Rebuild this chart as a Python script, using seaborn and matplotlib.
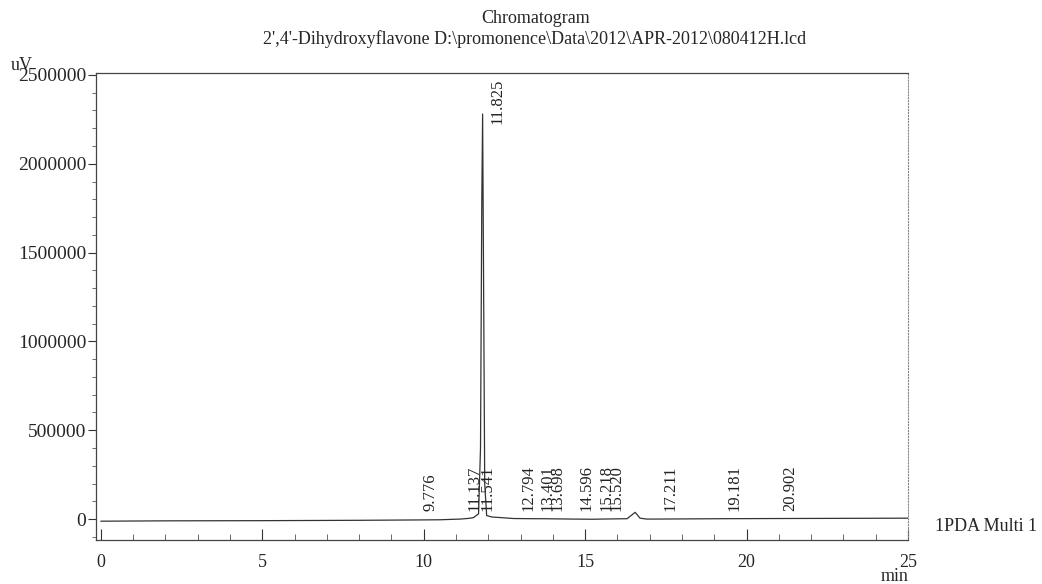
import numpy as np
import pandas as pd
import matplotlib
matplotlib.use('Agg')
import matplotlib.pyplot as plt
import seaborn as sns
from matplotlib.ticker import MultipleLocator, FuncFormatter

# chromatogram trace (min, uV)
time_min = [0.0, 2.0, 5.0, 8.0, 9.776, 10.5, 11.137, 11.40, 11.541, 11.70, 11.76,
            11.80, 11.825, 11.85, 11.89, 11.95, 12.10, 12.40, 12.794, 13.401, 13.698,
            14.596, 15.218, 15.520, 16.30, 16.55, 16.70, 16.90, 17.211, 19.181, 20.902,
            23.0, 25.0]
signal_uv = [-12000, -10000, -9000, -7000, -5000, -4000, 0, 4000, 8000, 30000, 400000,
             1800000, 2280000, 1500000, 200000, 20000, 12000, 8000, 3000, 2000, 2000,
             0, -1000, 0, 2000, 38000, 5000, 0, 0, 2000, 3000, 4000, 5000]

# retention times of labelled peaks
peak_rt = [9.776, 11.137, 11.541, 11.825, 12.794, 13.401, 13.698, 14.596,
           15.218, 15.520, 17.211, 19.181, 20.902]

df = pd.DataFrame({'time': time_min, 'signal': signal_uv})

sns.set_theme(style='white')
plt.rcParams['font.family'] = ['Liberation Serif', 'DejaVu Serif']

fig = plt.figure(figsize=(10.42, 5.84), dpi=100)
ax = fig.add_axes([0.0921, 0.0753, 0.7793, 0.7997])

sns.lineplot(data=df, x='time', y='signal', ax=ax, color='#333333', linewidth=0.9)

# peak labels
for rt in peak_rt:
    if rt == 11.825:
        ax.text(rt + 0.2, 2480000, f'{rt:.3f}', rotation=90, ha='left', va='top',
                fontsize=12, color='#222222')
    else:
        ax.text(rt + 0.2, 45000, f'{rt:.3f}', rotation=90, ha='left', va='bottom',
                fontsize=12, color='#222222')

ax.set_xlim(-0.15, 25)
ax.set_ylim(-118000, 2511000)
ax.xaxis.set_major_locator(MultipleLocator(5))
ax.xaxis.set_minor_locator(MultipleLocator(1))
ax.yaxis.set_major_locator(MultipleLocator(500000))
ax.yaxis.set_minor_locator(MultipleLocator(100000))
ax.yaxis.set_major_formatter(FuncFormatter(lambda v, p: f'{int(round(v))}'))
ax.tick_params(axis='x', which='major', direction='in', length=8, width=0.8,
               labelsize=13, pad=10, color='#333333', bottom=True)
ax.tick_params(axis='x', which='minor', direction='in', length=4, width=0.6,
               color='#555555', bottom=True)
ax.tick_params(axis='y', which='major', direction='out', length=6, width=0.8,
               labelsize=14, pad=1, color='#333333', left=True)
ax.tick_params(axis='y', which='minor', direction='out', length=3, width=0.6,
               color='#555555', left=True)
ax.set_xlabel('')
ax.set_ylabel('')

for side in ['left', 'top', 'bottom']:
    ax.spines[side].set_color('#444444')
    ax.spines[side].set_linewidth(0.9)
ax.spines['right'].set_color('#888888')
ax.spines['right'].set_linestyle(':')
ax.spines['right'].set_linewidth(0.8)

fig.text(0.514, 0.968, 'Chromatogram', ha='center', va='center', fontsize=13)
fig.text(0.513, 0.933, "2',4'-Dihydroxyflavone D:\\promonence\\Data\\2012\\APR-2012\\080412H.lcd",
         ha='center', va='center', fontsize=13)
fig.text(0.010, 0.888, 'uV', ha='left', va='center', fontsize=13)
fig.text(0.845, 0.012, 'min', ha='left', va='center', fontsize=13)
fig.text(0.897, 0.098, '1PDA Multi 1', ha='left', va='center', fontsize=13)

fig.savefig('out.png', dpi=100)
